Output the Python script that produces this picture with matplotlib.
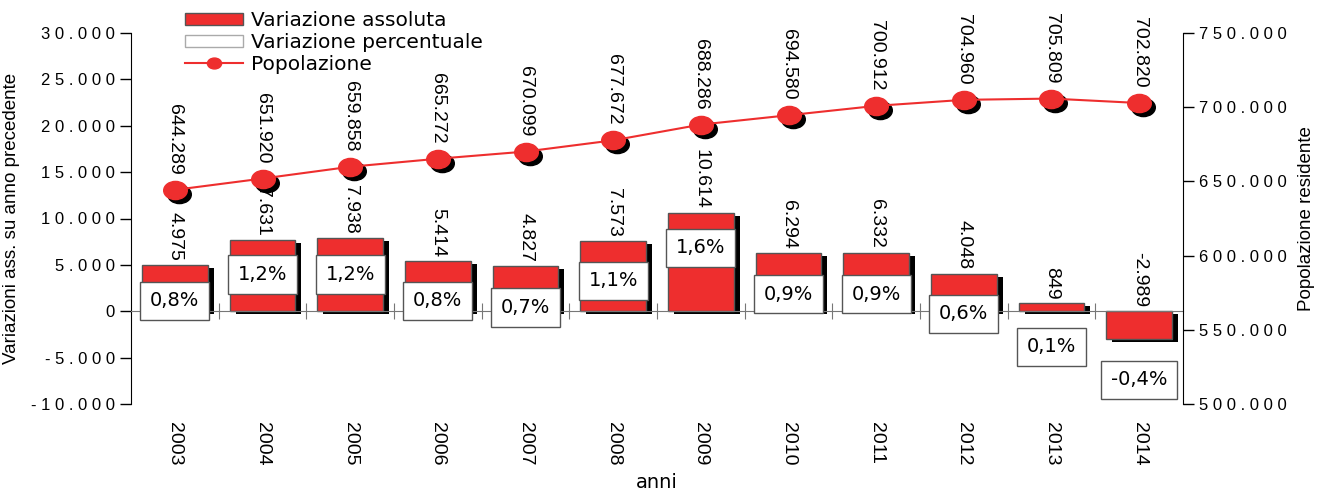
import numpy as np
import matplotlib
matplotlib.use("Agg")
import matplotlib.pyplot as plt
from matplotlib.patches import Patch
from matplotlib.path import Path
from matplotlib.markers import MarkerStyle
from matplotlib.transforms import Affine2D, offset_copy

# Dati
anni = [2003, 2004, 2005, 2006, 2007, 2008, 2009, 2010, 2011, 2012, 2013, 2014]
var_assoluta = [4975, 7631, 7938, 5414, 4827, 7573, 10614, 6294, 6332, 4048, 849, -2989]
var_percentuale = [0.8, 1.2, 1.2, 0.8, 0.7, 1.1, 1.6, 0.9, 0.9, 0.6, 0.1, -0.4]
popolazione = [644289, 651920, 659858, 665272, 670099, 677672, 688286, 694580,
               700912, 704960, 705809, 702820]

RED = '#ee2e2e'
EDGE = '#555555'
SANS = 'Liberation Sans'


def fmt_it(v):
    return f"{v:,.0f}".replace(",", ".")


def spaced(v):
    # tick labels have wide letter spacing in the original
    return " ".join(fmt_it(v))


x = np.arange(len(anni))

fig = plt.figure(figsize=(13.21, 4.91), dpi=100)
ax = fig.add_axes([131 / 1321, 87 / 491, 1052 / 1321, 371 / 491])

# bars + black shadow
shadow_tr = offset_copy(ax.transData, fig=fig, x=6, y=-3, units='dots')
ax.bar(x, var_assoluta, width=0.75, color='black', transform=shadow_tr, zorder=1)
bars = ax.bar(x, var_assoluta, width=0.75, color=RED, edgecolor=EDGE, linewidth=1,
              zorder=2, label='Variazione assoluta')

for i, v in enumerate(var_assoluta):
    ax.annotate(fmt_it(v), (x[i], max(v, 0)), xytext=(0, 3), textcoords='offset points',
                rotation=-90, ha='center', va='bottom', fontfamily=SANS, fontsize=14)

ax.set_xlim(-0.5, len(anni) - 0.5)
ax.set_ylim(-10000, 30000)
yt = np.arange(-10000, 30001, 5000)
ax.set_yticks(yt)
ax.set_yticklabels([spaced(v) for v in yt], fontfamily=SANS, fontsize=12)
ax.tick_params(axis='y', direction='out', length=8, width=1)

# zero line with category separators
ax.spines['bottom'].set_position(('data', 0))
ax.spines['bottom'].set_color('#777777')
ax.set_xticks(x[:-1] + 0.5)
ax.tick_params(axis='x', direction='inout', length=11, color='#777777', labelbottom=False)
ax.spines['top'].set_visible(False)
ax.spines['right'].set_visible(False)
ax.set_ylabel('Variazioni ass. su anno precedente', fontfamily=SANS, fontsize=13.5, labelpad=8)

# year labels at the bottom
secax = ax.secondary_xaxis(0)
secax.set_xticks(x)
secax.set_xticklabels([str(a) for a in anni], rotation=-90, fontfamily=SANS, fontsize=14)
secax.tick_params(length=0, pad=13)
secax.spines['bottom'].set_visible(False)
secax.set_xlabel('anni', fontsize=14, labelpad=5)

# population on right axis
ax2 = ax.twinx()
ellipse = MarkerStyle(Path.unit_circle().transformed(Affine2D().scale(1.3, 1.0)))
shadow2 = offset_copy(ax2.transData, fig=fig, x=4, y=-4, units='dots')
ax2.plot(x, popolazione, ls='none', marker=ellipse, ms=17, color='black',
         transform=shadow2, zorder=2)
line, = ax2.plot(x, popolazione, color=RED, lw=1.5, marker=ellipse, ms=17,
                 mfc=RED, mec=RED, zorder=3, label='Popolazione')
for i, p in enumerate(popolazione):
    ax2.annotate(fmt_it(p), (x[i], p), xytext=(0, 11), textcoords='offset points',
                 rotation=-90, ha='center', va='bottom', fontfamily=SANS, fontsize=14)

ax2.set_ylim(500000, 750000)
yt2 = np.arange(500000, 750001, 50000)
ax2.set_yticks(yt2)
ax2.set_yticklabels([spaced(v) for v in yt2], fontfamily=SANS, fontsize=12)
ax2.tick_params(axis='y', direction='out', length=8, width=1)
for s in ['top', 'left', 'bottom']:
    ax2.spines[s].set_visible(False)
ax2.set_ylabel('Popolazione residente', fontfamily=SANS, fontsize=13.5, labelpad=8)

# percentage labels, on their own hidden scale
ax3 = ax.twinx()
ax3.set_ylim(-0.764, 4.858)
ax3.axis('off')
for i, p in enumerate(var_percentuale):
    ax3.text(x[i], p, f"{p:.1f}%".replace(".", ","), ha='center', va='center',
             fontsize=14, zorder=4,
             bbox=dict(boxstyle='square,pad=0.5', fc='white', ec=EDGE, lw=1))

pct_handle = Patch(facecolor='white', edgecolor='#aaaaaa', label='Variazione percentuale')
fig.legend([bars, pct_handle, line],
           ['Variazione assoluta', 'Variazione percentuale', 'Popolazione'],
           loc='upper left', bbox_to_anchor=(185 / 1321, 1 - 11 / 491), frameon=False,
           fontsize=14.5, handlelength=2.9, handleheight=0.6, handletextpad=0.4,
           labelspacing=0.15, borderpad=0, borderaxespad=0, markerscale=0.6)

fig.savefig('out.png', dpi=100)
